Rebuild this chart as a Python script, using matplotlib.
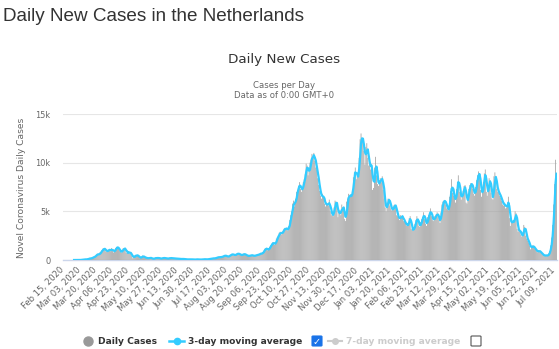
"""
Daily new COVID-19 cases in the Netherlands, Worldometers-style bar chart
"""

import matplotlib

matplotlib.use("Agg")
import matplotlib.pyplot as plt
from matplotlib.lines import Line2D
from matplotlib.patches import FancyBboxPatch
from matplotlib.transforms import ScaledTranslation
import numpy as np
import pandas as pd

# * Data (one row per week, Saturday to Friday)
start_date = "2020-02-15"
daily_cases = [
    0, 0, 0, 0, 0, 0, 0,
    0, 0, 0, 0, 0, 1, 1,
    4, 3, 8, 6, 5, 44, 46,
    60, 77, 56, 61, 121, 111, 190,
    155, 176, 278, 292, 346, 409, 534,
    637, 573, 545, 811, 852, 1019, 1172,
    1159, 1104, 884, 845, 1019, 1083, 1026,
    904, 1224, 952, 777, 969, 1213, 1335,
    1316, 1174, 964, 867, 734, 1061, 1235,
    1066, 1235, 750, 729, 708, 887, 655,
    655, 400, 171, 400, 386, 514, 475,
    445, 335, 199, 232, 314, 455, 319,
    248, 244, 196, 161, 197, 228, 220,
    196, 125, 99, 183, 193, 216, 177,
    228, 179, 160, 132, 163, 231, 199,
    184, 184, 119, 136, 183, 210, 169,
    209, 176, 123, 184, 144, 121, 167,
    143, 96, 118, 107, 101, 109, 106,
    82, 67, 62, 61, 58, 75, 68,
    60, 58, 43, 47, 55, 72, 70,
    49, 45, 46, 54, 58, 86, 69,
    82, 65, 62, 85, 117, 132, 145,
    176, 162, 158, 183, 208, 262, 311,
    264, 280, 324, 301, 356, 411, 473,
    432, 395, 343, 360, 405, 536, 537,
    601, 582, 465, 513, 580, 648, 677,
    606, 561, 499, 498, 577, 634, 579,
    520, 470, 410, 420, 440, 480, 520,
    460, 420, 430, 470, 500, 540, 520,
    600, 650, 700, 620, 820, 950, 1150,
    1200, 1150, 1000, 1100, 1350, 1500, 1650,
    1800, 1750, 1550, 1750, 2200, 2350, 2500,
    2800, 2900, 2600, 2850, 3000, 3200, 3300,
    3100, 3300, 3000, 3500, 4100, 4600, 5000,
    5800, 6100, 5500, 6300, 7000, 7200, 7600,
    8000, 7300, 7000, 7500, 8000, 8300, 8800,
    9900, 9700, 8700, 9100, 10000, 10300, 10900,
    10400, 11000, 10200, 9500, 9300, 8400, 7700,
    7100, 6600, 6300, 6800, 6400, 5800, 5500,
    5900, 5700, 5600, 6200, 5000, 4600, 4800,
    4500, 5400, 6100, 6000, 5500, 4400, 4900,
    5100, 4600, 5700, 5400, 5100, 4200, 4000,
    6000, 6300, 6800, 6400, 6700, 6600, 7000,
    8500, 9000, 9500, 8300, 8800, 8600, 10500,
    12400, 13000, 12100, 12300, 11200, 9800, 11600,
    12000, 10500, 9700, 10000, 9300, 9800, 7200,
    7400, 9500, 10600, 8700, 7800, 7600, 8200,
    8400, 8000, 8600, 7200, 6300, 5400, 5000,
    5900, 6300, 6300, 5600, 5300, 5100, 5200,
    5600, 5700, 5500, 4600, 4500, 4300, 4100,
    4600, 4400, 4500, 4000, 3900, 3800, 3500,
    3500, 3800, 4300, 4500, 3200, 3100, 3000,
    3400, 3700, 4100, 4500, 3900, 3500, 3400,
    3900, 4200, 4400, 4900, 4200, 3700, 3500,
    4400, 4600, 4800, 5300, 4500, 4100, 4000,
    4500, 4300, 4700, 4900, 4400, 4100, 3800,
    4900, 5700, 6000, 6100, 6100, 5700, 5300,
    5200, 5100, 6500, 7100, 8300, 6900, 6600,
    6300, 5900, 7300, 8000, 8700, 7000, 6600,
    6200, 6800, 7100, 7600, 7700, 5900, 5800,
    6800, 7300, 7700, 7900, 7800, 7300, 6800,
    6600, 7500, 8200, 8700, 9100, 8700, 7200,
    6500, 7200, 8000, 8900, 9300, 7000, 6600,
    7600, 8400, 8200, 6900, 6300, 6200, 8600,
    9000, 8000, 7300, 7000, 6900, 6600, 6400,
    6100, 5700, 5600, 5900, 5300, 5400, 5800,
    6500, 4300, 3500, 4100, 4000, 3800, 4000,
    5000, 4800, 3200, 2900, 3200, 2900, 2600,
    2400, 2600, 3600, 3400, 2500, 2200, 2000,
    1800, 1500, 1100, 1400, 1500, 1300, 1200,
    1100, 900, 800, 1000, 900, 800, 700,
    600, 500, 400, 500, 500, 400, 500,
    700, 900, 1500, 2300, 3600, 5700, 7800,
    10300, 8500,
]
y_ticks = [0, 5000, 10000, 15000]
y_tick_labels = ["0", "5k", "10k", "15k"]
tick_step = 17

# * Colours
BAR_COLOR = "#a0a0a0"
LINE_COLOR = "#33ccff"
TEXT_DARK = "#333333"
TEXT_GREY = "#666666"

W, H = 559, 349


def fx(px: float) -> float:
    """Pixel x to figure fraction"""
    return px / W


def fy(py: float) -> float:
    """Pixel y (from top) to figure fraction"""
    return 1 - py / H


def draw_legend(fig: plt.Figure) -> None:
    """Hand-drawn Highcharts legend row with checkboxes"""
    ly = fy(341)
    fig.add_artist(Line2D([fx(88)], [ly], marker="o", ms=6.5, color="#999999",
                          transform=fig.transFigure))
    fig.text(fx(98), ly, "Daily Cases", fontsize=6.6, fontweight="bold",
             color=TEXT_DARK, va="center")
    fig.add_artist(Line2D([fx(169), fx(184)], [ly, ly], color=LINE_COLOR, lw=1.8,
                          transform=fig.transFigure))
    fig.add_artist(Line2D([fx(176.5)], [ly], marker="o", ms=4.5, color=LINE_COLOR,
                          transform=fig.transFigure))
    fig.text(fx(188), ly, "3-day moving average", fontsize=6.6, fontweight="bold",
             color=TEXT_DARK, va="center")
    # checked box
    fig.add_artist(FancyBboxPatch((fx(312), fy(346)), fx(10), 10 / H,
                                  boxstyle="round,pad=0,rounding_size=0.002",
                                  fc="#1a73e8", ec="#1a73e8", lw=0.8,
                                  transform=fig.transFigure))
    fig.text(fx(317), fy(341.5), "\u2713", fontsize=7, color="white",
             ha="center", va="center", fontweight="bold")
    fig.add_artist(Line2D([fx(328), fx(342)], [ly, ly], color="#cccccc", lw=1.5,
                          transform=fig.transFigure))
    fig.add_artist(Line2D([fx(335)], [ly], marker="o", ms=4, color="#cccccc",
                          transform=fig.transFigure))
    fig.text(fx(346), ly, "7-day moving average", fontsize=6.6, fontweight="bold",
             color="#cccccc", va="center")
    # empty box
    fig.add_artist(FancyBboxPatch((fx(471), fy(346)), fx(10), 10 / H,
                                  boxstyle="round,pad=0,rounding_size=0.002",
                                  fc="white", ec="#555555", lw=0.8,
                                  transform=fig.transFigure))


def main() -> None:
    """Run script"""
    plt.rcParams["font.family"] = ["DejaVu Sans"]

    cases = np.array(daily_cases, dtype=float)
    dates = pd.date_range(start_date, periods=len(cases), freq="D")
    idx = np.arange(len(cases))

    ## 3-day moving average as shown in the chart, starting from first case
    avg3 = pd.Series(cases).rolling(3, min_periods=1).mean().to_numpy()
    started = np.cumsum(cases) > 0
    first = max(np.argmax(started) - 1, 0)

    fig = plt.figure(figsize=(W / 100, H / 100), dpi=100)
    ax = fig.add_axes([fx(63), fy(260), fx(494), 146 / H])

    bars = ax.bar(idx, cases, width=0.8, color=BAR_COLOR, linewidth=0, zorder=2)
    for bar in bars:
        bar.set_snap(False)
    ax.plot(idx[first:], avg3[first:], color=LINE_COLOR, lw=1.6, zorder=3,
            solid_joinstyle="round")

    ax.set_xlim(-0.5, len(cases) - 0.5)
    ax.set_ylim(0, 15000)
    ax.set_yticks(y_ticks)
    ax.set_yticklabels(y_tick_labels)
    ax.tick_params(axis="y", length=0, pad=9, labelsize=5.9, labelcolor=TEXT_GREY)

    tick_pos = idx[::tick_step]
    ax.set_xticks(tick_pos)
    ax.set_xticklabels([d.strftime("%b %d, %Y") for d in dates[::tick_step]],
                       rotation=45, ha="right", va="top", rotation_mode="anchor")
    ax.tick_params(axis="x", length=0, pad=4, labelsize=6.1, labelcolor=TEXT_GREY)
    ## Nudge rotated labels left so their ends sit on the ticks like the original
    shift = ScaledTranslation(-4 / 100, 0, fig.dpi_scale_trans)
    for label in ax.get_xticklabels():
        label.set_transform(label.get_transform() + shift)

    ax.grid(axis="y", color="#e6e6e6", lw=0.8, zorder=0)
    ax.set_axisbelow(True)
    for side in ["top", "right", "left"]:
        ax.spines[side].set_visible(False)
    ax.spines["bottom"].set_color("#ccd6eb")
    ax.spines["bottom"].set_linewidth(1)
    ax.spines["bottom"].set_zorder(1)

    ## Titles
    fig.text(fx(3), fy(21), "Daily New Cases in the Netherlands", fontsize=13.6,
             family=["Liberation Sans", "DejaVu Sans"], color=TEXT_DARK, va="baseline")
    fig.text(fx(284), fy(59), "Daily New Cases", fontsize=9.7, color=TEXT_DARK,
             ha="center", va="center")
    fig.text(fx(284), fy(85), "Cases per Day", fontsize=6.1, color=TEXT_GREY,
             ha="center", va="center")
    fig.text(fx(284), fy(96), "Data as of 0:00 GMT+0", fontsize=6.1, color=TEXT_GREY,
             ha="center", va="center")
    fig.text(fx(21), fy(188), "Novel Coronavirus Daily Cases", fontsize=6.6,
             color=TEXT_GREY, rotation=90, ha="center", va="center")

    draw_legend(fig)

    fig.savefig("out.png", dpi=100)


if __name__ == "__main__":
    main()
